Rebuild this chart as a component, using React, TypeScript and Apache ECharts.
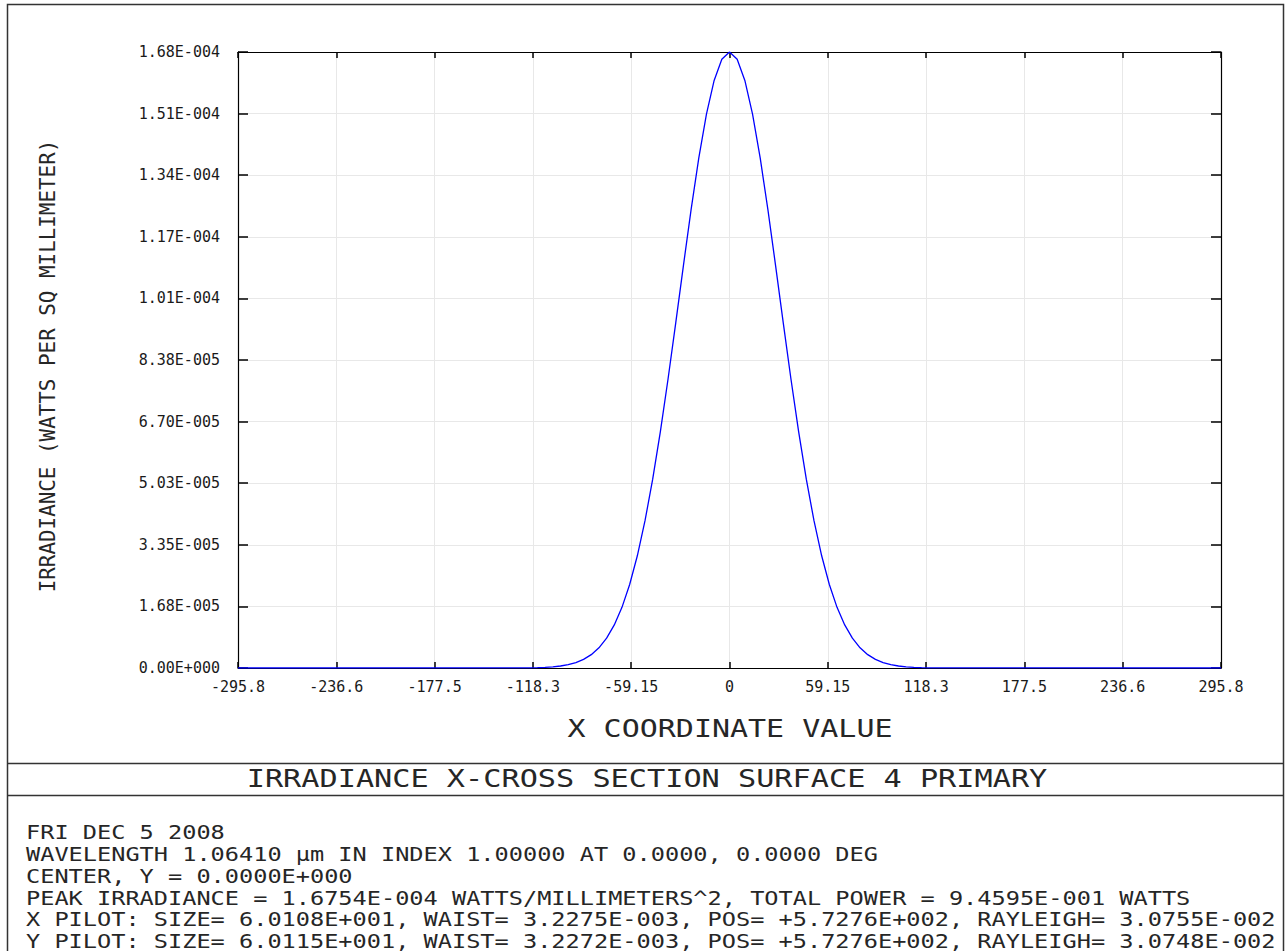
import React, { useEffect, useRef } from "react";
import * as echarts from "echarts";

// ---- data ----
const xCoordinates = [
  -295.8, -120.17, -115.55, -110.93, -106.3, -101.68, -97.06, -92.44, -87.82, -83.19,
  -78.57, -73.95, -69.33, -64.71, -60.08, -55.46, -50.84, -46.22, -41.6, -36.98,
  -32.35, -27.73, -23.11, -18.49, -13.87, -9.24, -4.62, 0,
  4.62, 9.24, 13.87, 18.49, 23.11, 27.73, 32.35, 36.98, 41.6, 46.22,
  50.84, 55.46, 60.08, 64.71, 69.33, 73.95, 78.57, 83.19, 87.82, 92.44,
  97.06, 101.68, 106.3, 110.93, 115.55, 120.17, 295.8,
];

const irradiance = [
  0, 5.65e-8, 1.033e-7, 1.845e-7, 3.22e-7, 5.48e-7, 9.11e-7, 1.479e-6, 2.345e-6, 3.632e-6,
  5.493e-6, 8.116e-6, 1.171e-5, 1.65e-5, 2.271e-5, 3.052e-5, 4.006e-5, 5.135e-5, 6.428e-5, 7.86e-5,
  9.386e-5, 1.0946e-4, 1.2466e-4, 1.3866e-4, 1.5063e-4, 1.598e-4, 1.6557e-4, 1.6754e-4,
  1.6557e-4, 1.598e-4, 1.5063e-4, 1.3866e-4, 1.2466e-4, 1.0946e-4, 9.386e-5, 7.86e-5, 6.428e-5, 5.135e-5,
  4.006e-5, 3.052e-5, 2.271e-5, 1.65e-5, 1.171e-5, 8.116e-6, 5.493e-6, 3.632e-6, 2.345e-6, 1.479e-6,
  9.11e-7, 5.48e-7, 3.22e-7, 1.845e-7, 1.033e-7, 5.65e-8, 0,
];

const xTickLabels = ["-295.8", "-236.6", "-177.5", "-118.3", "-59.15", "0", "59.15", "118.3", "177.5", "236.6", "295.8"];
const yTickLabels = [
  "0.00E+000", "1.68E-005", "3.35E-005", "5.03E-005", "6.70E-005", "8.38E-005",
  "1.01E-004", "1.17E-004", "1.34E-004", "1.51E-004", "1.68E-004",
];

const X_INTERVAL = 59.155;
const X_MIN = -295.775;
const X_MAX = 295.775;
const Y_INTERVAL = 1.6754e-5;
const Y_MAX = 1.6754e-4;

const titleText = "IRRADIANCE X-CROSS SECTION SURFACE 4 PRIMARY";
const xAxisName = "X COORDINATE VALUE";
const yAxisName = "IRRADIANCE (WATTS PER SQ MILLIMETER)";
const infoLines = [
  "FRI DEC 5 2008",
  "WAVELENGTH 1.06410 µm IN INDEX 1.00000 AT 0.0000, 0.0000 DEG",
  "CENTER, Y = 0.0000E+000",
  "PEAK IRRADIANCE = 1.6754E-004 WATTS/MILLIMETERS^2, TOTAL POWER = 9.4595E-001 WATTS",
  "X PILOT: SIZE= 6.0108E+001, WAIST= 3.2275E-003, POS= +5.7276E+002, RAYLEIGH= 3.0755E-002",
  "Y PILOT: SIZE= 6.0115E+001, WAIST= 3.2272E-003, POS= +5.7276E+002, RAYLEIGH= 3.0748E-002",
];
const infoLineY = [832, 854, 876, 898, 919, 941];

const FONT = "'DejaVu Sans Mono', monospace";
const TEXT_COLOR = "#262626";

function textEl(text: string, x: number, y: number, fontSize: number, scaleX: number, align: string, rotation = 0) {
  return {
    type: "text",
    x,
    y,
    rotation,
    scaleX,
    silent: true,
    z: 10,
    style: {
      text,
      fontFamily: FONT,
      fontSize,
      fill: TEXT_COLOR,
      align,
      textAlign: align,
      verticalAlign: "middle",
      textVerticalAlign: "middle",
    },
  };
}

export default function App() {
  const ref = useRef<HTMLDivElement>(null);

  useEffect(() => {
    if (!ref.current) return;
    const chart = echarts.init(ref.current, undefined, { renderer: "svg" });

    const data = xCoordinates.map((x, i) => [x, irradiance[i]]);

    const axisLineStyle = { color: "#000", width: 1.2 };
    const tickStyle = { color: "#000", width: 1.5 };
    const splitStyle = { color: "#e8e8e8", width: 1 };

    const frameStroke = { fill: "none", stroke: "#333", lineWidth: 1.5 };

    chart.setOption({
      animation: false,
      backgroundColor: "#fff",
      grid: { left: 238, right: 64, top: 52, bottom: 283, containLabel: false },
      xAxis: [
        {
          type: "value",
          position: "bottom",
          min: X_MIN,
          max: X_MAX,
          interval: X_INTERVAL,
          axisLine: { show: true, onZero: false, lineStyle: axisLineStyle },
          axisTick: { show: true, inside: true, length: 6, lineStyle: tickStyle },
          axisLabel: {
            show: true,
            margin: 11,
            fontFamily: FONT,
            fontSize: 15,
            color: "#1a1a1a",
            formatter: (v: number) => xTickLabels[Math.round(v / X_INTERVAL) + 5] ?? "",
          },
          splitLine: { show: true, lineStyle: splitStyle },
        },
        {
          type: "value",
          position: "top",
          min: X_MIN,
          max: X_MAX,
          interval: X_INTERVAL,
          axisLine: { show: true, onZero: false, lineStyle: axisLineStyle },
          axisTick: { show: true, inside: true, length: 6, lineStyle: tickStyle },
          axisLabel: { show: false },
          splitLine: { show: false },
        },
      ],
      yAxis: [
        {
          type: "value",
          position: "left",
          min: 0,
          max: Y_MAX,
          interval: Y_INTERVAL,
          axisLine: { show: true, onZero: false, lineStyle: axisLineStyle },
          axisTick: { show: true, inside: true, length: 10, lineStyle: tickStyle },
          axisLabel: {
            show: true,
            margin: 18,
            fontFamily: FONT,
            fontSize: 15,
            color: "#1a1a1a",
            formatter: (v: number) => yTickLabels[Math.round(v / Y_INTERVAL)] ?? "",
          },
          splitLine: { show: true, lineStyle: splitStyle },
        },
        {
          type: "value",
          position: "right",
          min: 0,
          max: Y_MAX,
          interval: Y_INTERVAL,
          axisLine: { show: true, onZero: false, lineStyle: axisLineStyle },
          axisTick: { show: true, inside: true, length: 10, lineStyle: tickStyle },
          axisLabel: { show: false },
          splitLine: { show: false },
        },
      ],
      series: [
        {
          type: "line",
          xAxisIndex: 0,
          yAxisIndex: 0,
          data,
          showSymbol: false,
          symbol: "none",
          smooth: false,
          lineStyle: { color: "#0000ff", width: 1.3 },
          z: 5,
        },
      ],
      graphic: [
        { type: "rect", silent: true, z: 1, shape: { x: 7.5, y: 4.5, width: 1276, height: 1000 }, style: frameStroke },
        { type: "line", silent: true, z: 1, shape: { x1: 7.5, y1: 763.5, x2: 1283.5, y2: 763.5 }, style: { stroke: "#333", lineWidth: 1.5 } },
        { type: "line", silent: true, z: 1, shape: { x1: 7.5, y1: 795.5, x2: 1283.5, y2: 795.5 }, style: { stroke: "#333", lineWidth: 1.5 } },
        textEl(titleText, 647, 779, 24, 1.26, "center"),
        textEl(xAxisName, 730, 728, 25, 1.2, "center"),
        textEl(yAxisName, 47, 366, 22, 0.95, "center", Math.PI / 2),
        ...infoLines.map((t, i) => textEl(t, 26, infoLineY[i], 20, 1.18, "left")),
      ],
    });

    return () => {
      chart.dispose();
    };
  }, []);

  return (
    <div
      ref={ref}
      style={{ position: "fixed", left: 0, top: 0, width: 1285, height: 951, background: "#fff" }}
    />
  );
}
